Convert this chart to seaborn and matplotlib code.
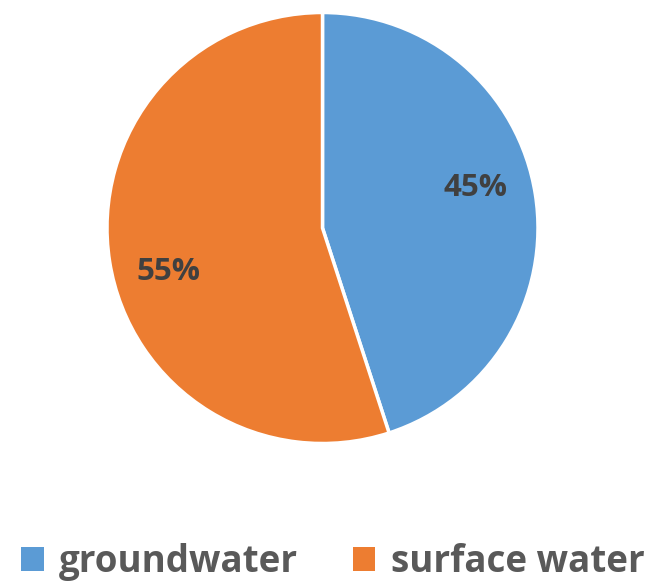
import matplotlib
matplotlib.use("Agg")
import matplotlib.pyplot as plt
import seaborn as sns
from matplotlib.patches import Patch

categories = ["groundwater", "surface water"]
values = [45, 55]
colors = ["#5B9BD5", "#ED7D31"]

sns.set_theme(style="white")
plt.rcParams['font.family'] = ['Open Sans', 'DejaVu Sans']

fig = plt.figure(figsize=(6.51, 5.83), dpi=100)
ax = fig.add_axes([107 / 651, (583 - 443.5) / 583, 431 / 651, 431 / 583])
wedges, texts, autotexts = ax.pie(
    values, colors=colors, startangle=90, counterclock=False,
    autopct='%1.0f%%', pctdistance=0.73, radius=1.0,
    wedgeprops=dict(edgecolor='white', linewidth=2.5),
    textprops=dict(color='#404040', fontsize=22.5, fontweight='bold'))
# label placement as in the reference (Excel best-fit style)
label_pos = [(0.712, 0.186), (-0.717, -0.204)]
for t, p in zip(autotexts, label_pos):
    t.set_position(p)
ax.set_xlim(-1, 1)
ax.set_ylim(-1, 1)
ax.set_aspect('equal')

handles = [Patch(facecolor=c, edgecolor='none') for c in colors]
leg = fig.legend(handles, categories, loc='center', bbox_to_anchor=(333 / 651, 1 - 562 / 583),
                 ncol=2, frameon=False, handlelength=0.6, handleheight=0.6,
                 handletextpad=0.42, columnspacing=1.5, borderpad=0,
                 prop=dict(size=26.5, weight='bold'))
for t in leg.get_texts():
    t.set_color('#595959')

fig.savefig("out.png", dpi=100)
